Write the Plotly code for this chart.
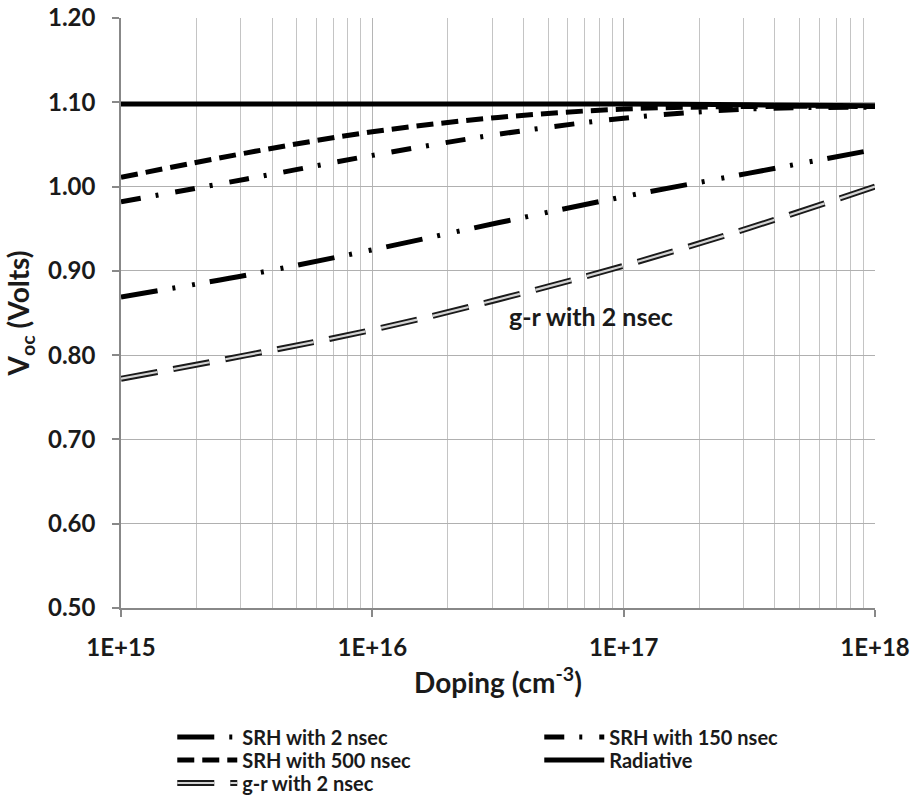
import plotly.graph_objects as go

# Doping (cm^-3)
doping = [1e15, 10**15.5, 1e16, 10**16.5, 1e17, 10**17.5, 1e18]

srh_2ns = [0.869, 0.895, 0.925, 0.957, 0.988, 1.016, 1.044]
srh_150ns = [0.982, 1.009, 1.037, 1.062, 1.081, 1.092, 1.094]
srh_500ns = [1.011, 1.040, 1.065, 1.082, 1.092, 1.095, 1.095]
radiative = [1.098, 1.098, 1.098, 1.098, 1.098, 1.097, 1.096]
gr_2ns = [0.772, 0.800, 0.830, 0.866, 0.906, 0.951, 1.000]

x_tickvals = [1e15, 1e16, 1e17, 1e18]
x_ticktext = ["1E+15", "1E+16", "1E+17", "1E+18"]
y_tickvals = [0.5, 0.6, 0.7, 0.8, 0.9, 1.0, 1.1, 1.2]
y_ticktext = ["0.50", "0.60", "0.70", "0.80", "0.90", "1.00", "1.10", "1.20"]

FONT = "Lato"
TXT = "#1a1a1a"
fig = go.Figure()

fig.add_trace(go.Scatter(x=doping, y=srh_2ns, mode="lines", name="SRH with 2 nsec",
                         legend="legend",
                         line=dict(color="black", width=5, shape="spline",
                                   dash="37px,15px,3px,17px,3px,15px")))
fig.add_trace(go.Scatter(x=doping, y=srh_150ns, mode="lines", name="SRH with 150 nsec",
                         legend="legend",
                         line=dict(color="black", width=5, shape="spline",
                                   dash="20px,15px,3px,17px")))
fig.add_trace(go.Scatter(x=doping, y=srh_500ns, mode="lines", name="SRH with 500 nsec",
                         legend="legend2",
                         line=dict(color="black", width=5, shape="spline",
                                   dash="17px,8px")))
fig.add_trace(go.Scatter(x=doping, y=radiative, mode="lines", name="Radiative",
                         legend="legend2",
                         line=dict(color="black", width=5, shape="spline")))
fig.add_trace(go.Scatter(x=doping, y=gr_2ns, mode="lines", name="g-r with 2 nsec",
                         legend="legend3",
                         line=dict(color="#1a1a1a", width=6, shape="spline",
                                   dash="37px,16px")))
fig.add_trace(go.Scatter(x=doping, y=gr_2ns, mode="lines", name=" ",
                         legend="legend4",
                         line=dict(color="#d4d4d4", width=2.2, shape="spline",
                                   dash="37px,16px")))

fig.add_annotation(x=16.87, y=0.846, xref="x", yref="y", text="<b>g-r with 2 nsec</b>",
                   showarrow=False, font=dict(family=FONT, size=25, color=TXT))

def leg(yc):
    return dict(orientation="h", xref="paper", yref="container",
                x=0.068, y=yc, xanchor="left", yanchor="middle",
                entrywidth=292, itemwidth=60,
                font=dict(family=FONT, size=20, color=TXT, weight="bold"),
                bgcolor="rgba(0,0,0,0)")

fig.update_layout(
    width=911, height=801,
    margin=dict(l=121, r=36, t=18, b=193, autoexpand=False),
    paper_bgcolor="white", plot_bgcolor="white",
    font=dict(family=FONT, color=TXT),
    showlegend=True,
    legend=leg((801 - 737) / 801),
    legend2=leg((801 - 760) / 801),
    legend3=leg((801 - 783) / 801),
    legend4=leg((801 - 783) / 801),
)

fig.update_xaxes(
    type="log", range=[15, 18], automargin=False,
    tickvals=x_tickvals, ticktext=x_ticktext,
    tickfont=dict(family=FONT, size=24, weight="bold", color=TXT),
    ticks="outside", ticklen=7, tickcolor="#888888", tickwidth=1.5,
    showline=True, linecolor="#888888", linewidth=1.5,
    showgrid=True, gridcolor="#b5b5b5", gridwidth=1,
    minor=dict(dtick="D1", showgrid=True, gridcolor="#c4c4c4", gridwidth=1, ticks=""),
    ticklabelstandoff=10,
    title=dict(text="<b>Doping (cm<sup>-3</sup>)</b>", standoff=14,
               font=dict(family=FONT, size=28, color=TXT)),
    zeroline=False,
)
fig.update_yaxes(
    range=[0.5, 1.2], automargin=False,
    tickvals=y_tickvals, ticktext=y_ticktext,
    tickfont=dict(family=FONT, size=24, weight="bold", color=TXT),
    ticks="outside", ticklen=7, tickcolor="#888888", tickwidth=1.5,
    showline=True, linecolor="#888888", linewidth=1.5,
    showgrid=True, gridcolor="#b0b0b0", gridwidth=1,
    ticklabelstandoff=12,
    title=dict(text="<b>V<sub>oc</sub> (Volts)</b>", standoff=10,
               font=dict(family=FONT, size=28, color=TXT)),
    zeroline=False,
)

fig.write_html("out.html", config={"displayModeBar": False},
               post_script="document.body.style.margin='0px';")
